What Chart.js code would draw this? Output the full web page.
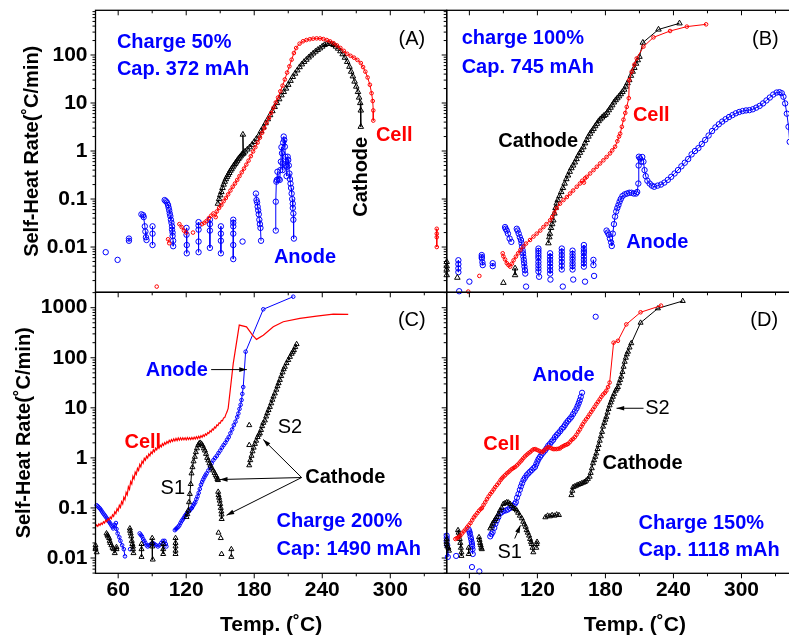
<!DOCTYPE html>
<html>
<head>
<meta charset="utf-8">
<script src="https://cdn.jsdelivr.net/npm/chart.js@4.4.0/dist/chart.umd.min.js"></script>
<style>
  html, body { margin: 0; padding: 0; background: #fff; width: 789px; height: 638px; overflow: hidden; }
  canvas { position: absolute; left: 0; top: 0; }
</style>
</head>
<body>
<canvas id="panelA" width="840" height="638"></canvas>
<canvas id="panelB" width="840" height="638"></canvas>
<canvas id="panelC" width="840" height="638"></canvas>
<canvas id="panelD" width="840" height="638"></canvas>
<script>
// ---- data: [temperature degC, self-heat rate degC/min]; null = break in the trace ----

// (A) charge 50 %
const cellA = [
  [94, 0.0015], null, [104, 0.0145], [105, 0.012], null,
  [114, 0.03], [116, 0.026], [118, 0.022], [120, 0.02], null, [126, 0.02], null,
  [134, 0.03], [136, 0.032], [138, 0.035], [140, 0.04], [142, 0.045], [144, 0.05], [146, 0.042], [147, 0.055],
  [149, 0.065], [151, 0.075], [153, 0.09], [155, 0.105], [157, 0.125], [159, 0.15], [161, 0.18], [163, 0.21],
  [165, 0.25], [167, 0.3], [169, 0.36], [171, 0.43], [173, 0.52], [175, 0.63], [177, 0.78], [179, 0.98],
  [181, 1.2], [183, 1.5], [185, 1.9], [187, 2.4], [189, 3.0], [191, 3.9], [193, 4.9], [195, 6.2], [197, 8.0],
  [199, 10.3], [201, 13], [203, 17.5], [205, 23], [207, 31], [209, 43], [211, 58], [213, 80], [215, 110],
  [217, 140], [220, 172], [223, 193], [226, 205], [229, 213], [232, 219], [235, 222], [238, 221], [241, 215],
  [244, 205], [247, 192], [250, 176], [253, 158], [256, 140], [259, 122], [262, 106], [265, 96], [268, 88],
  [271, 79], [274, 68], [276, 56], [278, 45], [280, 34], [282, 24], [283.5, 16], [284.5, 11], [285, 7], [285, 4.3],
  null, [341, 0.024], [341, 0.019], [341, 0.016], [341, 0.01]
];
const cathodeA = [
  [148, 0.08], [149, 0.1], [150, 0.12], [151, 0.14], [152, 0.17], [153, 0.2], [154, 0.23], [155, 0.26],
  [156, 0.29], [157, 0.32], [158, 0.35], [159, 0.39], [160, 0.42], [161, 0.46], [162, 0.5], [163, 0.54],
  [164, 0.58], [165, 0.63], [166, 0.68], [167, 0.73], [168, 0.78], [169, 0.84], [170, 0.88], [170, 2.2],
  [170.5, 0.9], [172, 0.98], [174, 1.08], [176, 1.2], [178, 1.35], [180, 1.55], [182, 1.8], [184, 2.1],
  [186, 2.6], [188, 3.1], [190, 3.8], [192, 4.6], [194, 5.6], [196, 6.8], [198, 8.3], [200, 10], [202, 12],
  [204, 14.5], [206, 17], [208, 20], [210, 24], [212, 29], [214, 35], [216, 41], [218, 48], [220, 56],
  [222, 64], [224, 72], [226, 80], [228, 89], [230, 98], [232, 108], [234, 118], [236, 128], [238, 138],
  [240, 150], [242, 162], [244, 170], [246, 172], [248, 170], [250, 162], [252, 150], [254, 136], [256, 120],
  [258, 104], [260, 88], [262, 72], [264, 57], [265.5, 45], [267, 36], [268.5, 28], [270, 22], [271.5, 17],
  [272.5, 13], [273.5, 10], [274, 7], [274, 3.2]
];
const anodeA = [
  [49, 0.0078], null, [59.5, 0.0054], null, [69.5, 0.015], [69.5, 0.0135], null,
  [80.5, 0.048], [82, 0.046], [82.5, 0.042], [83.5, 0.027], [84, 0.021], [84.5, 0.016], [85, 0.014], null,
  [90.3, 0.027], [90.3, 0.019], [90.3, 0.011], null,
  [101, 0.095], [102, 0.09], [103, 0.085], [104, 0.075], [104.5, 0.066], [105, 0.058], [105.5, 0.05], [106, 0.044],
  [106.5, 0.037], [107, 0.032], [107.5, 0.027], [107.5, 0.023], [108, 0.02], [108, 0.017], [108.5, 0.0135], [108.5, 0.0104], null,
  [120.3, 0.025], [120.3, 0.018], [120.5, 0.011], [120.5, 0.0074], null,
  [130.9, 0.033], [130.9, 0.028], [130.9, 0.023], [130.9, 0.013], [130.9, 0.0078], null,
  [140.9, 0.037], [140.9, 0.03], [140.9, 0.022], [140.9, 0.0096], null,
  [150.6, 0.027], [150.6, 0.019], [150.6, 0.0135], [150.6, 0.0074], null,
  [161.5, 0.037], [161.5, 0.032], [161.5, 0.027], [161.5, 0.019], [161.5, 0.011], [161.5, 0.0056], null,
  [169.7, 0.013], null,
  [181.5, 0.13], [182, 0.095], [182.5, 0.085], [183, 0.069], [183.5, 0.058], [184, 0.048], [184.5, 0.037],
  [185, 0.03], [185.5, 0.025], [186, 0.0135], null,
  [199, 0.022], [199, 0.088], [199.5, 0.23], [200, 0.25], [200.5, 0.37], [201.5, 0.26], [202.5, 0.25], [203, 0.4],
  [203.5, 0.6], [204, 1.2], [204.5, 0.9], [205, 0.55], [205, 0.4], [205.5, 1.5], [206, 2.0], [206.5, 1.7],
  [207, 1.23], [207.5, 0.76], [208, 0.5], [208.5, 0.3], [209, 0.47], [209.5, 0.76], [210, 0.65], [210.5, 0.5],
  [211, 0.34], [211.5, 0.26], [212, 0.21], [212.5, 0.17], [213, 0.13], [213.5, 0.1], [214, 0.08], [214, 0.065],
  [214.5, 0.05], [214.5, 0.037], [215, 0.015]
];

// (B) charge 100 %
const cellB = [
  [59, 0.00118], null, [68.8, 0.0025], null,
  [89.4, 0.0074], [90, 0.0064], [91.5, 0.0055], [93, 0.0046], [94.5, 0.0042], [96, 0.0039], [97.5, 0.0045],
  [99, 0.0053], [101, 0.0063], [103, 0.0074], [105, 0.0087], [107.6, 0.0102], [110, 0.0118], [113.5, 0.014],
  [116.5, 0.0165], [119.4, 0.019], [122.5, 0.022], [125.3, 0.026], [128, 0.03], [131.2, 0.036], [133, 0.042],
  [135, 0.052], [137, 0.065], [140, 0.08], [143, 0.095], [146, 0.11], [148.8, 0.13], [151.5, 0.15],
  [154.7, 0.18], [157.5, 0.21], [159.5, 0.24], [161, 0.22], [162, 0.27], [163.5, 0.29], [166.5, 0.34],
  [169.5, 0.4], [172.4, 0.47], [175.3, 0.55], [178.2, 0.64], [181, 0.75], [184, 0.89], [186, 1.03],
  [188.5, 1.23], [190.5, 1.6], [192, 2.0], [193, 2.3], [194.5, 3.2], [195.9, 4.5], [197.5, 6.2], [198.8, 8.3],
  [200.6, 12.6], [201, 30], [203.2, 45], [205.5, 63], [207.6, 85], [213.5, 149], [222.4, 233], [237, 316],
  [251.8, 390], [268.8, 435]
];
const cathodeB = [
  [40, 0.0049], [40, 0.004], [40, 0.0034], [40, 0.0026], null, [49.4, 0.0023], null, [90, 0.0018], null,
  [100.3, 0.0036], [100.3, 0.0026], null,
  [129.7, 0.012], [130.5, 0.016], [131, 0.019], [132, 0.025], [133, 0.03], [134, 0.036], [135, 0.05],
  [136, 0.065], [137, 0.081], [138, 0.095], [139.5, 0.115], [141, 0.14], [142.5, 0.17], [144, 0.21],
  [145.5, 0.26], [147, 0.31], [148.5, 0.37], [150, 0.44], [151.5, 0.5], [153, 0.58], [154.5, 0.68], [156, 0.8],
  [157.5, 0.92], [159, 1.05], [160.5, 1.2], [162, 1.45], [163.5, 1.7], [165, 2.0], [166.5, 2.3], [168, 2.6],
  [169.5, 2.9], [171, 3.3], [172.5, 3.7], [174, 4.2], [175.5, 4.6], [177, 5.0], [178.5, 5.4], [180, 5.7],
  [181.5, 6.3], [183, 7.1], [184.5, 8.0], [186, 9.0], [187.5, 10.3], [189, 11.5], [190.5, 12.6], [192, 13.8],
  [193.5, 15.3], [195, 17], [196.5, 19], [198, 22], [199.5, 26], [201, 30], [202.5, 37], [204, 45],
  [205.5, 54], [207, 66], [208.5, 78], [210, 92], [213, 181], [226.8, 340], [245.3, 457]
];
const anodeB = [
  [50.3, 0.0053], [50.3, 0.0044], [50.3, 0.0036], [50.3, 0.003], null, [51, 0.0012], null, [60, 0.0019], null,
  [70.9, 0.0068], [70.9, 0.0062], [71, 0.0058], [71.5, 0.0048], [71.8, 0.0042], null,
  [80.6, 0.0046], [80.6, 0.004], null,
  [91.5, 0.026], [92, 0.024], [93, 0.022], [94, 0.019], [95.5, 0.015], [97, 0.0128], null,
  [101.8, 0.024], [102.5, 0.022], [103.5, 0.019], [104.5, 0.016], [105.5, 0.014], [106, 0.012], [106.5, 0.0102],
  [107, 0.0085], [107.3, 0.0074], [107.6, 0.0063], [108, 0.0054], [108.3, 0.0046], [108.6, 0.0039],
  [109, 0.0033], [109.3, 0.0028], null, [110, 0.0015], null,
  [120.9, 0.0093], [120.9, 0.0083], [120.9, 0.0074], [120.9, 0.0065], [120.9, 0.0058], [120.9, 0.0049],
  [120.9, 0.0042], [120.9, 0.0036], [120.9, 0.0031], [121.5, 0.0024], null,
  [131.2, 0.0074], [131.2, 0.0063], [131.2, 0.0054], [131.2, 0.0046], [131.2, 0.0039], [131.2, 0.0033],
  [131.2, 0.0028], null, [131.5, 0.0021], null,
  [141.5, 0.0093], [141.5, 0.008], [141.5, 0.0068], [141.5, 0.0058], [141.5, 0.0049], [141.5, 0.0041],
  [141.5, 0.0034], null, [142.4, 0.0015], null,
  [151, 0.0084], [151, 0.0072], [151, 0.0062], [151, 0.0054], [151, 0.0046], [151, 0.004], [151, 0.0034],
  null, [151.6, 0.0021], null,
  [161, 0.011], [161, 0.0093], [161, 0.0082], [161, 0.0074], [161, 0.0063], [161, 0.0054], [161, 0.0046],
  [161, 0.0039], null, [162, 0.0019], null,
  [169.4, 0.0054], [169.4, 0.0042], null, [170, 0.0025], null,
  [181, 0.022], [182, 0.02], [183, 0.018], [184, 0.015], [185, 0.0125], [185.6, 0.0105], [186.5, 0.019],
  [187.5, 0.03], [188.5, 0.043], [189.5, 0.055], [190.5, 0.065], [191.5, 0.075], [192.5, 0.088], [193.5, 0.1],
  [195, 0.115], [197, 0.125], [199, 0.13], [201, 0.135], [203, 0.135], [205, 0.13], [207, 0.13], [208, 0.14],
  [209, 0.21], [209.3, 0.5], [209.5, 0.76], [210.5, 0.7], [211.5, 0.6], [212.5, 0.75], [213.5, 0.6],
  [214.5, 0.4], [215.5, 0.3], [217, 0.24], [219, 0.21], [221, 0.19], [223, 0.18], [226, 0.19], [229, 0.2],
  [232, 0.22], [235, 0.25], [238, 0.29], [241, 0.34], [244, 0.4], [247, 0.48], [250, 0.57], [253, 0.68],
  [256, 0.85], [259, 1.0], [262, 1.15], [265, 1.4], [268, 1.7], [271, 2.1], [274, 2.6], [277, 3.1], [280, 3.6],
  [283, 4.1], [286, 4.6], [289, 5.1], [292, 5.6], [295, 6.1], [298, 6.5], [301, 6.8], [304, 7.0], [307, 7.1],
  [310, 7.4], [313, 8.0], [316, 8.7], [319, 9.8], [322, 11.3], [325, 13], [328, 15], [331, 16.5],
  [333.5, 16.8], [335.5, 16], [337, 13.5], [338.5, 9.8], [340, 6], [341.5, 3.2], [342.5, 1.55]
];

// (C) charge 200 % -- cell trace is a noisy thermocouple record, drawn as a bare line
const cellC = [
  [40, 0.042], [41, 0.046], [42, 0.043], [43, 0.048], [44, 0.045], [45, 0.05], [46, 0.047], [47, 0.053],
  [48, 0.05], [49, 0.057], [50, 0.053], [51, 0.061], [52, 0.057], [53, 0.066], [54, 0.061], [55, 0.073],
  [56, 0.068], [57, 0.084], [58, 0.077], [59, 0.097], [60, 0.088], [61, 0.113], [62, 0.102], [63, 0.134],
  [64, 0.12], [65, 0.164], [66, 0.146], [67, 0.205], [68, 0.182], [69, 0.265], [70, 0.235], [71, 0.335],
  [72, 0.3], [73, 0.43], [74, 0.38], [75, 0.52], [76, 0.47], [77, 0.62], [78, 0.56], [79, 0.74], [80, 0.66],
  [81, 0.86], [82, 0.78], [83, 0.98], [84, 0.9], [85, 1.08], [86, 0.99], [87, 1.2], [88, 1.1], [89, 1.32],
  [90, 1.22], [91, 1.45], [92, 1.33], [93, 1.57], [94, 1.45], [95, 1.68], [96, 1.55], [97, 1.8], [98, 1.66],
  [99, 1.92], [100, 1.77], [101, 2.03], [102, 1.87], [103, 2.13], [104, 1.97], [105, 2.24], [106, 2.06],
  [107, 2.33], [108, 2.13], [109, 2.4], [110, 2.18], [111, 2.45], [112, 2.22], [113, 2.5], [114, 2.26],
  [115, 2.52], [116, 2.28], [117, 2.53], [118, 2.3], [119, 2.52], [120, 2.28], [121, 2.55], [122, 2.32],
  [123, 2.54], [124, 2.32], [125, 2.57], [126, 2.36], [127, 2.6], [128, 2.38], [129, 2.64], [130, 2.42],
  [131, 2.7], [132, 2.48], [133, 2.78], [134, 2.58], [135, 2.88], [136, 2.7], [137, 3.02], [138, 2.85],
  [139, 3.22], [140, 3.06], [141, 3.47], [142, 3.3], [143, 3.77], [144, 3.6], [145, 4.12], [146, 3.95],
  [147, 4.55], [148, 4.4], [149, 5.0], [150, 4.9], [151, 5.6], [152, 5.5], [153, 6.3], [154, 6.4], [155, 7.4],
  [156, 8.3], [157, 9.7],
  [161.5, 77], [166.8, 450], [173.2, 415], [178.5, 283], [182, 233], [188, 283], [196.8, 415], [205.6, 525],
  [220.3, 612], [235, 680], [249.7, 745], [262.9, 735]
];
const cathodeC = [
  [40, 0.018], [40, 0.016], [40, 0.015], [41, 0.013], null,
  [49.7, 0.031], [50.5, 0.029], [51, 0.027], [52, 0.025], [52.5, 0.022], [53, 0.02], [54, 0.018], [55, 0.016],
  [56, 0.015], [57, 0.0125], [58.5, 0.015], [58.5, 0.0165], null,
  [70.3, 0.039], [70.5, 0.035], [71, 0.031], [71.5, 0.027], [72, 0.022], [72.5, 0.019], [73, 0.017],
  [73, 0.015], [73.5, 0.0125], null,
  [80.6, 0.019], [80.6, 0.015], [80.6, 0.0105], null,
  [90, 0.025], [90, 0.02], [90, 0.017], [90.5, 0.0093], null,
  [99.7, 0.019], [99.7, 0.015], [99.7, 0.012], null,
  [110.6, 0.025], [110.6, 0.02], [110.6, 0.017], [110.6, 0.014], [110.6, 0.012], null,
  [120.3, 0.066], [121, 0.075], [121.8, 0.089], [122.5, 0.13], [123.2, 0.19], [124, 0.3], [124.7, 0.49],
  [125.5, 0.65], [126.5, 0.85], [127.6, 1.05], [128.5, 1.3], [129.5, 1.55], [130.6, 1.8], [131.5, 1.95],
  [132.5, 2.0], [133.5, 1.9], [134.5, 1.75], [135.5, 1.55], [136.5, 1.4], [137.5, 1.2], [138.5, 1.0],
  [139.4, 0.89], [140.5, 0.78], [141.5, 0.7], [142.5, 0.62], [143.8, 0.56], [145, 0.5], [146, 0.45],
  [146.8, 0.42], [147.5, 0.38], [148, 0.36], null,
  [148.2, 0.21], [148.5, 0.18], [149, 0.16], [149.5, 0.14], [150, 0.12], [150.5, 0.1], [151, 0.085],
  [151.2, 0.074], [151.3, 0.06], null, [148.5, 0.032], null, [150.5, 0.025], null, [151.2, 0.012], null,
  [159.8, 0.0105], [159.8, 0.015], null,
  [175.6, 4.5], null, [175.6, 1.8], null,
  [175.6, 0.71], [176.5, 0.9], [177.6, 1.1], [178.5, 1.35], [179.5, 1.6], [180.6, 1.9], [181.7, 2.2], [183, 2.6],
  [184, 2.9], [185, 3.1], [186, 3.6], [187, 4.3], [188, 5.0], [189.4, 5.6], [190.5, 6.7], [191.5, 7.8],
  [192.6, 9.0], [193.8, 10.4], [195, 12.3], [196, 14.5], [197, 16.8], [198.2, 19.4], [199.5, 23], [200.5, 27],
  [201.5, 31], [202.6, 36], [203.8, 43], [205, 51], [206, 59], [207, 66], [208.5, 78], [210, 90], [211.5, 104],
  [213, 120], [214, 131], [215, 142], [216.2, 163], [217.4, 187]
];
const anodeC = [
  [41, 0.113], [42, 0.108], [43, 0.102], [44, 0.097], [45, 0.09], [46, 0.083], [47, 0.077], [48, 0.072],
  [49, 0.067], [50, 0.062], [51, 0.057], [52, 0.053], [53, 0.049], [54, 0.045], [55, 0.042], [55.6, 0.039],
  [57, 0.046], [58, 0.05], [58.5, 0.038], [59.5, 0.031], [61, 0.026], [62, 0.022], [63.5, 0.018], [65, 0.015],
  [66, 0.0108], null, [70.5, 0.015], null,
  [79, 0.031], [80, 0.029], [81, 0.027], [82, 0.024], [83, 0.022], [84, 0.02], [85, 0.018], [86, 0.017],
  [87.5, 0.018], [89, 0.019], [90.5, 0.02], [92, 0.019], [93.5, 0.018], [95, 0.017], [96.5, 0.018], [98, 0.02],
  [99.5, 0.022], [101, 0.022], [102, 0.019], [102.5, 0.017], null,
  [110, 0.036], [111, 0.038], [112, 0.04], [113, 0.042], [114, 0.045], [115, 0.05], [116, 0.055], [117, 0.059],
  [118, 0.064], [119, 0.07], [120, 0.075], [121, 0.08], [122, 0.085], [123, 0.089], [124, 0.095], [125, 0.1],
  [126, 0.11], [127, 0.12], [128, 0.13], [129, 0.15], [130, 0.17], [131, 0.2], [132, 0.24], [133, 0.29],
  [134, 0.33], [135, 0.37], [136, 0.41], [137, 0.45], [138, 0.49], [139.5, 0.56], [141, 0.66], [142.5, 0.78],
  [144, 0.9], [145.5, 1.0], [147, 1.1], [148.5, 1.25], [150, 1.4], [151.5, 1.6], [153, 1.8], [154.5, 2.0],
  [156, 2.3], [157.5, 2.6], [159, 3.1], [160.5, 3.7], [162, 4.5], [163.5, 5.3], [165, 6.5], [166, 7.7],
  [167, 9.5], [168, 11.5], [168.8, 14.3], [169.5, 19], [170.3, 26], [172.4, 132], [188, 930], [214.4, 1660]
];

// (D) charge 150 %
const cellD = [
  [47.7, 0.024], [49, 0.025], [50.5, 0.026], [52, 0.028], [53.6, 0.031], [55, 0.034], [56.5, 0.037], [58, 0.041],
  [59.4, 0.045], [61, 0.05], [62.5, 0.057], [64, 0.065], [65.3, 0.071], [67, 0.079], [68.5, 0.088], [70, 0.095],
  [71.1, 0.1], [72.5, 0.115], [74, 0.13], [75.5, 0.15], [77, 0.17], [78.5, 0.19], [80, 0.21], [81.5, 0.235],
  [82.8, 0.26], [84.5, 0.29], [86, 0.32], [87.5, 0.36], [88.7, 0.39], [90, 0.42], [91.5, 0.45], [93, 0.49],
  [94.5, 0.52], [96, 0.56], [97.5, 0.6], [99, 0.63], [100.4, 0.66], [102, 0.71], [103.5, 0.77], [105, 0.84],
  [106.2, 0.9], [107.5, 0.98], [109, 1.07], [110.5, 1.15], [112, 1.23], [113.5, 1.3], [115, 1.4], [116.5, 1.48],
  [118, 1.5], [119.5, 1.45], [121, 1.4], [122.5, 1.35], [123.7, 1.3], [125, 1.35], [126.5, 1.45], [128, 1.55],
  [129.6, 1.65], [131, 1.6], [132.5, 1.55], [134, 1.5], [135.4, 1.5], [137, 1.5], [138.5, 1.52], [140, 1.55],
  [141.3, 1.65], [143, 1.72], [144.5, 1.8], [146, 1.85], [147, 1.9], [148.5, 2.05], [150, 2.25], [151.5, 2.4],
  [153, 2.6], [154.5, 2.9], [156, 3.3], [157.5, 3.7], [158.8, 4.2], [160, 4.7], [161.5, 5.3], [163, 5.9],
  [164.6, 6.6], [166, 7.4], [167.5, 8.3], [169, 9.3], [170.5, 10.5], [172, 11.8], [173.5, 13.2], [175, 14.8],
  [176.4, 16.6], [178, 18.5], [179.5, 20], [180.8, 22], [182.3, 26], [183.7, 32], [187.2, 200], [191, 218],
  [198.4, 464], [211, 810], [229, 1100]
];
const cathodeD = [
  [40, 0.024], [40, 0.021], [40, 0.019], [40.5, 0.017], [41.5, 0.016], [42, 0.014], null,
  [50, 0.036], [50.5, 0.032], [51, 0.028], [51.5, 0.024], [52, 0.02], [52.5, 0.016], [53, 0.013], [53, 0.011], null,
  [59.4, 0.016], [59.4, 0.012], null,
  [68.5, 0.026], [69, 0.023], [69.5, 0.02], [70, 0.018], [70.5, 0.016], [71, 0.015], null,
  [78.4, 0.039], [79.5, 0.043], [80.5, 0.049], [82, 0.055], [83, 0.06], [84.2, 0.066], [85.5, 0.075], [87, 0.089],
  [88.5, 0.1], [90, 0.12], [91.5, 0.125], [93, 0.13], [94.5, 0.128], [96, 0.12], [97.4, 0.11], [99, 0.1],
  [100.5, 0.095], [101.8, 0.089], [103, 0.08], [104.5, 0.07], [106.2, 0.062], [107.5, 0.053], [108.5, 0.047],
  [109.7, 0.042], [110.5, 0.036], [111.5, 0.032], [112.6, 0.028], [113.5, 0.024], [114.3, 0.021], [115, 0.019],
  [115.7, 0.016], [116.4, 0.013], null, [119, 0.016], [119.4, 0.019], [119.7, 0.021], null,
  [127, 0.065], [129, 0.07], [131, 0.068], [133, 0.072], [135, 0.07], [137, 0.074], [139, 0.072], null,
  [150, 0.18], [150.8, 0.22], [151.5, 0.26], [153, 0.27], [154.5, 0.28], [155.9, 0.29], [157.5, 0.3], [159, 0.31],
  [160.5, 0.32], [161.8, 0.33], [163, 0.35], [164.5, 0.38], [166.1, 0.42], [167, 0.5], [168, 0.62], [169, 0.78],
  [170, 0.9], [171, 1.05], [172, 1.23], [173, 1.5], [174, 1.8], [175, 2.2], [176, 2.7], [177, 3.3], [177.9, 4.2],
  [179, 5.0], [180, 5.8], [180.8, 6.6], [181.8, 8.0], [182.7, 9.5], [183.7, 11.2], [184.7, 12.8], [185.6, 14.5],
  [186.6, 16.6], [187.7, 19], [189, 22], [190, 24], [191, 26], [192, 31], [193, 36], [194, 42], [195, 52],
  [196, 66], [197, 83], [198, 100], [198.9, 117], [199.9, 132], [201.3, 160], [202.8, 195], [211, 500],
  [226.3, 970], [248.2, 1360]
];
const anodeD = [
  [40, 0.028], [40, 0.025], [40, 0.022], [40.5, 0.018], [41, 0.0105], null, [48.3, 0.011], null,
  [59.4, 0.037], [60, 0.034], [60.5, 0.031], [61, 0.027], [61.5, 0.024], [62, 0.021], [62.3, 0.019],
  [62.5, 0.017], [62.8, 0.015], [63, 0.012], null, [62.3, 0.0066], null, [68.8, 0.0054], null,
  [78.4, 0.027], [79.5, 0.03], [80.5, 0.033], [82, 0.04], [83, 0.048], [84.2, 0.056], [85.5, 0.065], [87, 0.077],
  [88.5, 0.082], [90, 0.087], [92.1, 0.089], [94, 0.093], [96, 0.1], [98, 0.11], [100, 0.12], [101, 0.13],
  [102, 0.16], [103.3, 0.19], [104.5, 0.23], [105.5, 0.27], [106.5, 0.31], [107.7, 0.36], [109, 0.4],
  [110.5, 0.45], [112, 0.49], [113.5, 0.53], [115, 0.57], [116.5, 0.62], [117.9, 0.66], [119, 0.75], [120, 0.85],
  [121, 0.95], [122.3, 1.05], [123.5, 1.15], [125, 1.27], [126.7, 1.4], [128, 1.55], [129.5, 1.75], [131, 1.9],
  [132.5, 2.1], [134, 2.3], [135.5, 2.6], [137, 2.85], [138.4, 3.1], [140, 3.4], [141.5, 3.8], [143, 4.1],
  [144.2, 4.5], [145.5, 5.0], [147, 5.5], [148.5, 6.0], [150, 6.6], [151.5, 7.5], [153, 8.5], [154.5, 9.7],
  [155.5, 11], [156.5, 12.5], [157.4, 14.2], [158.3, 16.5], [159.4, 20], null, [171.4, 660]
];

// axis ranges
const tempMin = 40;
const rateTop = [0.00114, 853];     // panels A, B
const rateBottom = [0.00495, 2030]; // panels C, D

// ---- drawing ----
const FONT = "'Liberation Sans', Arial, Helvetica, sans-serif";
const RED = '#ff0000', BLUE = '#0000ff', BLACK = '#000000';
const W = 840, H = 638;
const PX_PER_DEG = 1.1338;

const pts = arr => arr.map(p => p ? { x: p[0], y: p[1] } : { x: null, y: null });

function isDecade(v) {
  const l = Math.log10(v);
  return Math.abs(l - Math.round(l)) < 1e-6;
}

// frame, tick marks, arrows and in-plot text
const panelDecor = {
  id: 'panelDecor',
  afterDraw(chart, args, o) {
    const { ctx, chartArea: a } = chart;
    const sx = chart.scales.x, sy = chart.scales.y;
    ctx.save();
    ctx.strokeStyle = BLACK;
    ctx.fillStyle = BLACK;

    const xs = [];
    for (let t = 60; t < sx.max; t += 30) xs.push([sx.getPixelForValue(t), t % 60 === 0]);
    const ys = [];
    for (let e = -3; e <= 3; e++) {
      for (let m = 1; m <= 9; m++) {
        const v = m * Math.pow(10, e);
        if (v > sy.min && v < sy.max) ys.push([sy.getPixelForValue(v), m === 1]);
      }
    }
    ctx.lineWidth = 1;
    ctx.beginPath();
    for (const [side, dir] of Object.entries(o.ticks)) {
      const marks = side === 'left' || side === 'right' ? ys : xs;
      for (const [p, major] of marks) {
        const len = (major ? 5 : 3) * dir;
        if (side === 'left') { ctx.moveTo(a.left, p); ctx.lineTo(a.left - len, p); }
        else if (side === 'right') { ctx.moveTo(a.right, p); ctx.lineTo(a.right + len, p); }
        else if (side === 'top') { ctx.moveTo(p, a.top); ctx.lineTo(p, a.top - len); }
        else { ctx.moveTo(p, a.bottom); ctx.lineTo(p, a.bottom + len); }
      }
    }
    ctx.stroke();

    ctx.lineWidth = 1.3;
    ctx.strokeRect(a.left, a.top, a.right - a.left, a.bottom - a.top);

    ctx.lineWidth = 1;
    for (const ar of o.arrows) {
      const x1 = sx.getPixelForValue(ar.from[0]), y1 = sy.getPixelForValue(ar.from[1]);
      const x2 = sx.getPixelForValue(ar.to[0]), y2 = sy.getPixelForValue(ar.to[1]);
      ctx.beginPath();
      ctx.moveTo(x1, y1);
      ctx.lineTo(x2, y2);
      ctx.stroke();
      const ang = Math.atan2(y2 - y1, x2 - x1);
      ctx.beginPath();
      ctx.moveTo(x2, y2);
      ctx.lineTo(x2 - 8 * Math.cos(ang - 0.3), y2 - 8 * Math.sin(ang - 0.3));
      ctx.lineTo(x2 - 8 * Math.cos(ang + 0.3), y2 - 8 * Math.sin(ang + 0.3));
      ctx.closePath();
      ctx.fill();
    }

    for (const lb of o.labels) {
      ctx.font = (lb.bold ? 'bold ' : '') + (lb.size || 20) + 'px ' + FONT;
      ctx.fillStyle = lb.color || BLACK;
      ctx.textAlign = lb.align || 'center';
      ctx.textBaseline = 'middle';
      const px = sx.getPixelForValue(lb.at[0]), py = sy.getPixelForValue(lb.at[1]);
      if (lb.rotate) {
        ctx.save();
        ctx.translate(px, py);
        ctx.rotate(-Math.PI / 2);
        ctx.fillText(lb.text, 0, 0);
        ctx.restore();
      } else {
        ctx.fillText(lb.text, px, py);
      }
    }
    ctx.restore();
  }
};

function series(data, color, style, radius, lineWidth) {
  return {
    data: pts(data),
    showLine: true,
    borderColor: color,
    borderWidth: lineWidth === undefined ? 1 : lineWidth,
    backgroundColor: 'rgba(0,0,0,0)',
    pointStyle: style,
    pointRadius: radius,
    pointBorderWidth: 1,
    pointBorderColor: color,
    pointBackgroundColor: 'rgba(0,0,0,0)',
    clip: 8
  };
}

function makePanel(id, p) {
  const b = p.box;
  const tMax = tempMin + (b.right - b.left) / PX_PER_DEG;
  const tickFont = { family: FONT, size: 21, weight: 'bold' };
  return new Chart(document.getElementById(id), {
    type: 'scatter',
    data: { datasets: p.datasets },
    options: {
      responsive: false,
      animation: false,
      devicePixelRatio: 1,
      events: [],
      layout: {
        padding: {
          left: p.yTitle ? 0 : b.left,
          top: b.top,
          right: W - b.right,
          bottom: p.xTitle ? 0 : H - b.bottom
        }
      },
      plugins: {
        legend: { display: false },
        tooltip: { enabled: false },
        panelDecor: p.decor
      },
      scales: {
        x: {
          type: 'linear',
          min: tempMin,
          max: tMax,
          display: !!p.xTitle,
          grid: { display: false, drawTicks: false },
          border: { display: false },
          afterFit: s => {
            s.height = p.xTitle ? H - b.bottom : 0;
            s.paddingLeft = s.paddingRight = s.paddingTop = s.paddingBottom = 0;
          },
          ticks: {
            stepSize: 30,
            includeBounds: false,
            autoSkip: false,
            maxRotation: 0,
            padding: 4,
            color: BLACK,
            font: tickFont,
            callback: v => (v % 60 === 0 ? String(v) : '')
          },
          title: {
            display: !!p.xTitle,
            text: p.xTitle || '',
            color: BLACK,
            font: { family: FONT, size: 21, weight: 'bold' },
            padding: { top: 0, bottom: 0 }
          }
        },
        y: {
          type: 'logarithmic',
          min: p.range[0],
          max: p.range[1],
          display: !!p.yTitle,
          grid: { display: false, drawTicks: false },
          border: { display: false },
          afterFit: s => {
            s.width = p.yTitle ? b.left : 0;
            s.paddingLeft = s.paddingRight = s.paddingTop = s.paddingBottom = 0;
          },
          ticks: {
            autoSkip: false,
            padding: 8,
            color: BLACK,
            font: tickFont,
            callback: v => (isDecade(v) ? String(Number(v.toPrecision(3))) : '')
          },
          title: {
            display: !!p.yTitle,
            text: p.yTitle || '',
            color: BLACK,
            font: { family: FONT, size: 20, weight: 'bold' },
            padding: { top: p.yTitlePad || 0, bottom: 0 }
          }
        }
      }
    },
    plugins: [panelDecor]
  });
}

const yTitle = 'Self-Heat Rate(\u02DAC/min)';
const xTitle = 'Temp. (\u02DAC)';

makePanel('panelA', {
  box: { left: 95.5, top: 10.3, right: 446.7, bottom: 292.3 },
  range: rateTop,
  yTitle: yTitle, yTitlePad: 20,
  datasets: [
    series(cellA, RED, 'circle', 1.8),
    series(cathodeA, BLACK, 'triangle', 3.2),
    series(anodeA, BLUE, 'circle', 2.7)
  ],
  decor: {
    ticks: { left: 1, top: -1, right: -1 },
    arrows: [],
    labels: [
      { text: 'Charge 50%', at: [58.9, 186], color: BLUE, bold: true, align: 'left' },
      { text: 'Cap. 372 mAh', at: [58.9, 49], color: BLUE, bold: true, align: 'left' },
      { text: '(A)', at: [319, 206] },
      { text: 'Cell', at: [303.5, 2.15], color: RED, bold: true },
      { text: 'Cathode', at: [274.3, 0.29], bold: true, rotate: true },
      { text: 'Anode', at: [224.8, 0.0062], color: BLUE, bold: true }
    ]
  }
});

makePanel('panelB', {
  box: { left: 446.7, top: 10.3, right: 798, bottom: 292.3 },
  range: rateTop,
  datasets: [
    series(cellB, RED, 'circle', 1.8),
    series(cathodeB, BLACK, 'triangle', 3.2),
    series(anodeB, BLUE, 'circle', 2.7)
  ],
  decor: {
    ticks: { top: -1 },
    arrows: [],
    labels: [
      { text: 'charge 100%', at: [53.2, 226], color: BLUE, bold: true, align: 'left' },
      { text: 'Cap. 745 mAh', at: [53.2, 56], color: BLUE, bold: true, align: 'left' },
      { text: '(B)', at: [321, 206] },
      { text: 'Cell', at: [220.4, 5.6], color: RED, bold: true },
      { text: 'Cathode', at: [120.7, 1.55], bold: true },
      { text: 'Anode', at: [225.7, 0.0125], color: BLUE, bold: true }
    ]
  }
});

makePanel('panelC', {
  box: { left: 95.5, top: 292.3, right: 446.7, bottom: 573.3 },
  range: rateBottom,
  yTitle: yTitle, yTitlePad: 12,
  xTitle: xTitle,
  datasets: [
    series(cellC, RED, 'circle', 0, 1.2),
    series(cathodeC, BLACK, 'triangle', 2.9),
    series(anodeC, BLUE, 'circle', 1.8)
  ],
  decor: {
    ticks: { left: 1, bottom: 1, top: -1, right: -1 },
    arrows: [
      { from: [142, 58], to: [173.5, 58] },
      { from: [221.8, 0.405], to: [187.9, 2.33] },
      { from: [221.8, 0.405], to: [149.7, 0.37] },
      { from: [221.8, 0.405], to: [155.6, 0.0714] }
    ],
    labels: [
      { text: '(C)', at: [319, 560] },
      { text: 'Anode', at: [111.7, 56], color: BLUE, bold: true },
      { text: 'Cell', at: [81.7, 2.0], color: RED, bold: true },
      { text: 'S1', at: [108.2, 0.25] },
      { text: 'S2', at: [211.5, 4.1] },
      { text: 'Cathode', at: [225, 0.4], bold: true, align: 'left' },
      { text: 'Charge 200%', at: [199.7, 0.054], color: BLUE, bold: true, align: 'left' },
      { text: 'Cap: 1490 mAh', at: [199.7, 0.0148], color: BLUE, bold: true, align: 'left' }
    ]
  }
});

makePanel('panelD', {
  box: { left: 446.7, top: 292.3, right: 823, bottom: 573.3 },
  range: rateBottom,
  xTitle: xTitle,
  datasets: [
    series(cellD, RED, 'circle', 1.8),
    series(cathodeD, BLACK, 'triangle', 2.9),
    series(anodeD, BLUE, 'circle', 2.6)
  ],
  decor: {
    ticks: { bottom: 1, top: -1 },
    arrows: [
      { from: [213.6, 9.8], to: [189.8, 9.8] },
      { from: [100, 0.0245], to: [105, 0.045] }
    ],
    labels: [
      { text: '(D)', at: [320, 560] },
      { text: 'Anode', at: [143.1, 44], color: BLUE, bold: true },
      { text: 'Cell', at: [88.5, 1.85], color: RED, bold: true },
      { text: 'Cathode', at: [212.8, 0.78], bold: true },
      { text: 'S2', at: [225.9, 9.7] },
      { text: 'S1', at: [95.5, 0.013] },
      { text: 'Charge 150%', at: [209.2, 0.049], color: BLUE, bold: true, align: 'left' },
      { text: 'Cap. 1118 mAh', at: [209.2, 0.014], color: BLUE, bold: true, align: 'left' }
    ]
  }
});
</script>
</body>
</html>
